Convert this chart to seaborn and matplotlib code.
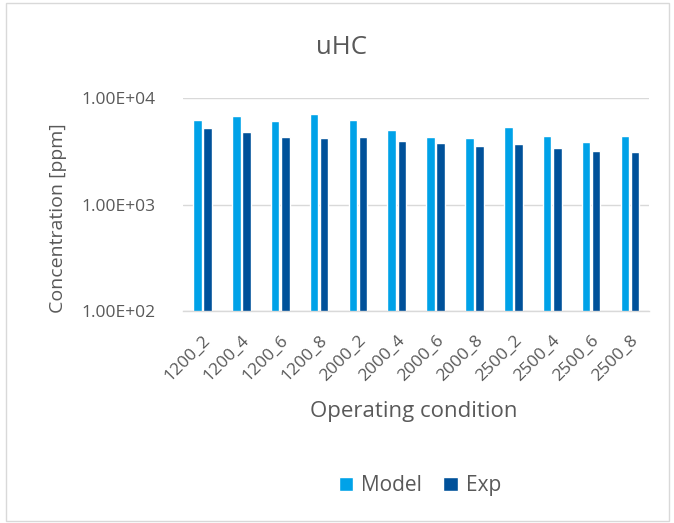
import numpy as np
import pandas as pd
import matplotlib
matplotlib.use('Agg')
import matplotlib.pyplot as plt
import seaborn as sns
from matplotlib.ticker import FuncFormatter, FixedLocator
from matplotlib.patches import Rectangle, Patch

# --- data ---
conditions = ['1200_2', '1200_4', '1200_6', '1200_8',
              '2000_2', '2000_4', '2000_6', '2000_8',
              '2500_2', '2500_4', '2500_6', '2500_8']
model_ppm = [6250, 6810, 6110, 7110, 6200, 5000, 4320, 4200, 5400, 4390, 3900, 4440]
exp_ppm = [5290, 4790, 4350, 4200, 4350, 4020, 3820, 3560, 3710, 3430, 3210, 3120]
series = ['Model', 'Exp']
colors = ['#00A2E8', '#00519A']

df = pd.DataFrame({
    'condition': conditions * 2,
    'series': ['Model'] * len(conditions) + ['Exp'] * len(conditions),
    'ppm': model_ppm + exp_ppm,
})

sns.set_theme(style='white')
plt.rcParams['font.family'] = ['Open Sans', 'DejaVu Sans']
grey = '#595959'

fig = plt.figure(figsize=(6.74, 5.23), dpi=100)
ax = fig.add_axes([0.2715, 0.4044, 0.692, 0.4076])

sns.barplot(data=df, x='condition', y='ppm', hue='series', hue_order=series,
            palette=colors, width=0.52, gap=0.15, saturation=1,
            ax=ax, legend=False)

ax.set_yscale('log')
ax.set_ylim(100, 10000)
ax.yaxis.set_major_locator(FixedLocator([100, 1000, 10000]))
ax.yaxis.set_minor_locator(FixedLocator([]))
ax.yaxis.set_major_formatter(FuncFormatter(lambda v, p: f'{v:.2E}'))
ax.grid(axis='y', color='#D9D9D9', lw=1)
ax.set_axisbelow(True)
ax.set_xlim(-0.5, len(conditions) - 0.5)

for s in ['top', 'right', 'left']:
    ax.spines[s].set_visible(False)
ax.spines['bottom'].set_color('#D9D9D9')
ax.spines['bottom'].set_linewidth(1)

ax.tick_params(axis='y', length=0, pad=20, labelsize=12.5, labelcolor=grey)
ax.tick_params(axis='x', length=0, pad=15, labelsize=12.5, labelcolor=grey)
plt.setp(ax.get_xticklabels(), rotation=45, ha='right', rotation_mode='anchor')

ax.set_xlabel('Operating condition', fontsize=16, color=grey, va='center')
ax.xaxis.set_label_coords(0.494, -0.47)
ax.set_ylabel('Concentration [ppm]', fontsize=14, color=grey, va='center')
ax.yaxis.set_label_coords(-0.268, 0.44)
fig.text(0.507, 0.910, 'uHC', fontsize=18.5, color=grey, ha='center', va='center')

handles = [Patch(facecolor=c, label=s) for c, s in zip(colors, series)]
fig.legend(handles=handles, loc='center', bbox_to_anchor=(0.623, 0.071), ncol=2,
           frameon=False, fontsize=15, labelcolor=grey, handlelength=0.7,
           handleheight=0.7, handletextpad=0.4, columnspacing=1.0)

# chart frame
fig.patches.append(Rectangle((0.009, 0.004), 0.984, 0.99, transform=fig.transFigure,
                             fill=False, edgecolor='#D9D9D9', lw=1))

fig.savefig('out.png', dpi=100)
